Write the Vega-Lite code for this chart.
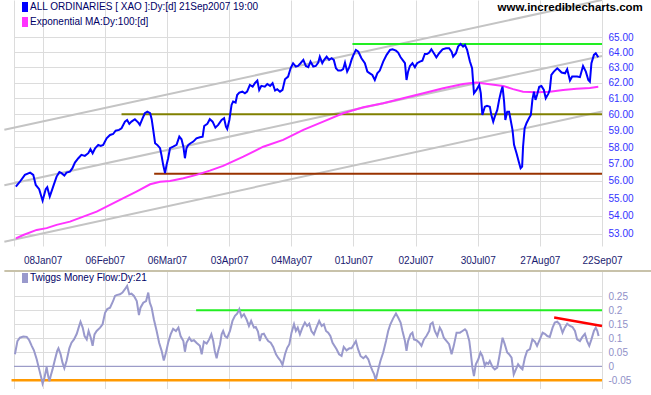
{
  "$schema": "https://vega.github.io/schema/vega-lite/v6.json",
  "background": "white",
  "padding": 0,
  "spacing": 2,
  "title": {"text": "www.incrediblecharts.com", "anchor": "end", "frame": "bounds", "fontSize": 11.5, "fontWeight": "bold", "color": "#000000", "font": "Liberation Sans", "offset": 0, "dy": 13, "dx": -16},
  "config": {
    "view": {"stroke": null},
    "font": "Liberation Sans",
    "axis": {"gridColor": "#dcdcdc", "gridWidth": 1, "domain": false, "ticks": false, "title": null, "labelFontSize": 10, "labelFont": "Liberation Sans"},
    "legend": {"orient": "none", "legendX": 6, "legendY": 2, "title": null, "padding": 0, "rowPadding": 5, "symbolType": "M-0.6,-1H0.6V1H-0.6Z", "symbolSize": 100, "symbolStrokeWidth": 0, "labelFontSize": 10, "labelFont": "Liberation Sans", "labelColor": "#000066", "labelOffset": 0, "labelLimit": 0}
  },
  "resolve": {"scale": {"color": "independent"}, "legend": {"color": "independent"}},
  "vconcat": [
    {
      "width": 588,
      "height": 246,
      "encoding": {
        "x": {"field": "d", "type": "quantitative", "scale": {"domain": [0.8, 190], "nice": false, "zero": false},
          "axis": {"values": [0.8, 10, 30, 50, 70, 90, 110, 130, 150, 170, 190], "labelExpr": "datum.value < 5 ? '' : ['08Jan07','06Feb07','06Mar07','03Apr07','04May07','01Jun07','02Jul07','30Jul07','27Aug07','22Sep07'][round((datum.value-10)/20)]", "labelPadding": 9, "labelColor": "#1a1a70", "labelFlush": false, "labelOverlap": false}},
        "y": {"field": "v", "type": "quantitative", "scale": {"type": "log", "domain": [52.34, 67.56], "nice": false, "zero": false},
          "axis": {"orient": "right", "values": [53, 54, 55, 56, 57, 58, 59, 60, 61, 62, 63, 64, 65], "format": ".2f", "labelPadding": 6, "labelColor": "#3333ff"}}
      },
      "layer": [
        {
          "data": {"values": [
            {"g": "a", "d": -2.3, "v": 59.05}, {"g": "a", "d": 100, "v": 63.43},
            {"g": "b", "d": -2.3, "v": 55.74}, {"g": "b", "d": 190, "v": 63.75},
            {"g": "c", "d": -2.3, "v": 52.57}, {"g": "c", "d": 190, "v": 60.18}
          ]},
          "mark": {"type": "line", "color": "#c4c4c4", "strokeWidth": 2, "clip": false},
          "encoding": {"detail": {"field": "g"}}
        },
        {
          "data": {"values": [{"d": 100, "v": 63.43}, {"d": 192, "v": 67.66}]},
          "mark": {"type": "line", "color": "#c4c4c4", "strokeWidth": 2, "clip": true},
          "encoding": {}
        },
        {
          "data": {"values": [{"d": 109.7, "v": 64.55}, {"d": 190, "v": 64.55}]},
          "mark": {"type": "line", "color": "#22ee22", "strokeWidth": 2, "clip": false},
          "encoding": {}
        },
        {
          "data": {"values": [{"d": 35.4, "v": 60.0}, {"d": 190, "v": 60.0}]},
          "mark": {"type": "line", "color": "#808000", "strokeWidth": 2, "clip": false},
          "encoding": {}
        },
        {
          "data": {"values": [{"d": 45.9, "v": 56.41}, {"d": 190, "v": 56.41}]},
          "mark": {"type": "line", "color": "#993300", "strokeWidth": 2, "clip": false},
          "encoding": {}
        },
        {
          "data": {"values": [
            {"s":"MA","d":1.4,"v":52.76},{"s":"MA","d":3.8,"v":52.94},{"s":"MA","d":8.1,"v":53.22},{"s":"MA","d":11.3,"v":53.32},{"s":"MA","d":14.5,"v":53.50},{"s":"MA","d":18.8,"v":53.68},{"s":"MA","d":23.1,"v":53.96},{"s":"MA","d":27.4,"v":54.24},{"s":"MA","d":31.7,"v":54.62},{"s":"MA","d":36.0,"v":55.00},{"s":"MA","d":40.2,"v":55.38},{"s":"MA","d":44.6,"v":55.80},{"s":"MA","d":47.8,"v":55.95},{"s":"MA","d":51.0,"v":55.99},{"s":"MA","d":55.3,"v":56.15},{"s":"MA","d":59.5,"v":56.35},{"s":"MA","d":63.8,"v":56.60},{"s":"MA","d":68.1,"v":56.88},{"s":"MA","d":74.6,"v":57.43},{"s":"MA","d":81.0,"v":58.02},{"s":"MA","d":87.4,"v":58.43},{"s":"MA","d":93.9,"v":59.04},{"s":"MA","d":100.3,"v":59.55},{"s":"MA","d":106.7,"v":60.07},{"s":"MA","d":113.2,"v":60.45},{"s":"MA","d":119.6,"v":60.70},{"s":"MA","d":126.0,"v":61.01},{"s":"MA","d":132.5,"v":61.33},{"s":"MA","d":138.9,"v":61.65},{"s":"MA","d":145.3,"v":61.92},{"s":"MA","d":149.6,"v":62.01},{"s":"MA","d":153.9,"v":61.90},{"s":"MA","d":158.2,"v":61.80},{"s":"MA","d":161.4,"v":61.59},{"s":"MA","d":164.6,"v":61.43},{"s":"MA","d":168.9,"v":61.39},{"s":"MA","d":173.2,"v":61.43},{"s":"MA","d":177.5,"v":61.54},{"s":"MA","d":181.8,"v":61.61},{"s":"MA","d":186.1,"v":61.67},{"s":"MA","d":188.8,"v":61.75},
            {"s":"XAO","d":1.4,"v":55.67},{"s":"XAO","d":2.7,"v":55.95},{"s":"XAO","d":4.3,"v":56.35},{"s":"XAO","d":6.0,"v":56.48},{"s":"XAO","d":7.0,"v":56.35},{"s":"XAO","d":7.8,"v":55.76},{"s":"XAO","d":8.9,"v":55.52},{"s":"XAO","d":10.0,"v":54.86},{"s":"XAO","d":11.0,"v":55.52},{"s":"XAO","d":11.5,"v":55.63},{"s":"XAO","d":12.3,"v":55.09},{"s":"XAO","d":13.4,"v":55.67},{"s":"XAO","d":14.5,"v":56.25},{"s":"XAO","d":15.4,"v":56.51},{"s":"XAO","d":16.1,"v":56.45},{"s":"XAO","d":17.0,"v":56.31},{"s":"XAO","d":17.7,"v":56.48},{"s":"XAO","d":18.8,"v":56.54},{"s":"XAO","d":19.6,"v":56.74},{"s":"XAO","d":20.4,"v":57.07},{"s":"XAO","d":21.5,"v":57.33},{"s":"XAO","d":22.5,"v":57.53},{"s":"XAO","d":23.6,"v":57.47},{"s":"XAO","d":24.7,"v":57.63},{"s":"XAO","d":25.4,"v":57.87},{"s":"XAO","d":26.1,"v":57.63},{"s":"XAO","d":26.9,"v":57.93},{"s":"XAO","d":27.9,"v":58.13},{"s":"XAO","d":28.7,"v":58.07},{"s":"XAO","d":29.5,"v":58.13},{"s":"XAO","d":30.6,"v":58.53},{"s":"XAO","d":31.7,"v":58.73},{"s":"XAO","d":32.7,"v":58.79},{"s":"XAO","d":33.5,"v":58.99},{"s":"XAO","d":34.6,"v":59.04},{"s":"XAO","d":35.4,"v":59.14},{"s":"XAO","d":36.5,"v":59.55},{"s":"XAO","d":37.2,"v":59.65},{"s":"XAO","d":37.9,"v":59.41},{"s":"XAO","d":38.6,"v":59.55},{"s":"XAO","d":39.7,"v":59.70},{"s":"XAO","d":40.8,"v":59.49},{"s":"XAO","d":41.3,"v":59.35},{"s":"XAO","d":42.2,"v":59.76},{"s":"XAO","d":42.9,"v":60.07},{"s":"XAO","d":43.7,"v":60.17},{"s":"XAO","d":44.6,"v":60.07},{"s":"XAO","d":45.1,"v":59.70},{"s":"XAO","d":45.6,"v":59.04},{"s":"XAO","d":46.2,"v":58.23},{"s":"XAO","d":46.9,"v":58.13},{"s":"XAO","d":47.8,"v":57.93},{"s":"XAO","d":48.3,"v":57.47},{"s":"XAO","d":48.8,"v":56.94},{"s":"XAO","d":49.4,"v":56.45},{"s":"XAO","d":49.9,"v":56.94},{"s":"XAO","d":50.4,"v":57.33},{"s":"XAO","d":51.0,"v":57.93},{"s":"XAO","d":52.0,"v":58.02},{"s":"XAO","d":53.1,"v":58.13},{"s":"XAO","d":54.0,"v":58.63},{"s":"XAO","d":54.7,"v":58.47},{"s":"XAO","d":55.3,"v":58.02},{"s":"XAO","d":55.8,"v":57.33},{"s":"XAO","d":56.3,"v":57.93},{"s":"XAO","d":56.9,"v":58.13},{"s":"XAO","d":57.6,"v":58.23},{"s":"XAO","d":58.5,"v":58.33},{"s":"XAO","d":59.5,"v":58.53},{"s":"XAO","d":60.6,"v":58.59},{"s":"XAO","d":61.5,"v":58.63},{"s":"XAO","d":62.0,"v":59.28},{"s":"XAO","d":63.0,"v":59.41},{"s":"XAO","d":63.8,"v":59.70},{"s":"XAO","d":64.7,"v":59.55},{"s":"XAO","d":65.6,"v":59.18},{"s":"XAO","d":66.5,"v":59.35},{"s":"XAO","d":67.6,"v":59.65},{"s":"XAO","d":68.4,"v":59.76},{"s":"XAO","d":69.0,"v":59.24},{"s":"XAO","d":69.4,"v":59.10},{"s":"XAO","d":70.1,"v":59.65},{"s":"XAO","d":70.8,"v":60.59},{"s":"XAO","d":71.3,"v":60.80},{"s":"XAO","d":72.1,"v":60.74},{"s":"XAO","d":72.6,"v":61.22},{"s":"XAO","d":73.3,"v":61.37},{"s":"XAO","d":74.3,"v":61.43},{"s":"XAO","d":75.1,"v":61.33},{"s":"XAO","d":75.8,"v":61.43},{"s":"XAO","d":76.7,"v":61.86},{"s":"XAO","d":77.6,"v":61.75},{"s":"XAO","d":78.3,"v":61.97},{"s":"XAO","d":79.1,"v":62.14},{"s":"XAO","d":79.7,"v":61.54},{"s":"XAO","d":80.4,"v":61.80},{"s":"XAO","d":81.5,"v":61.75},{"s":"XAO","d":82.3,"v":61.92},{"s":"XAO","d":83.2,"v":61.80},{"s":"XAO","d":84.0,"v":61.97},{"s":"XAO","d":84.8,"v":61.50},{"s":"XAO","d":85.5,"v":61.59},{"s":"XAO","d":86.4,"v":61.43},{"s":"XAO","d":87.2,"v":61.54},{"s":"XAO","d":88.0,"v":62.23},{"s":"XAO","d":89.0,"v":62.40},{"s":"XAO","d":89.8,"v":62.94},{"s":"XAO","d":90.6,"v":63.27},{"s":"XAO","d":91.5,"v":63.05},{"s":"XAO","d":92.2,"v":63.09},{"s":"XAO","d":93.0,"v":63.27},{"s":"XAO","d":93.9,"v":63.49},{"s":"XAO","d":94.7,"v":63.09},{"s":"XAO","d":95.5,"v":63.01},{"s":"XAO","d":96.2,"v":63.38},{"s":"XAO","d":97.1,"v":63.05},{"s":"XAO","d":97.9,"v":63.09},{"s":"XAO","d":98.7,"v":63.31},{"s":"XAO","d":99.2,"v":63.70},{"s":"XAO","d":100.0,"v":63.27},{"s":"XAO","d":100.6,"v":63.49},{"s":"XAO","d":101.4,"v":63.70},{"s":"XAO","d":102.2,"v":63.49},{"s":"XAO","d":103.0,"v":63.60},{"s":"XAO","d":103.7,"v":63.49},{"s":"XAO","d":104.4,"v":62.94},{"s":"XAO","d":105.1,"v":62.79},{"s":"XAO","d":106.0,"v":62.79},{"s":"XAO","d":106.7,"v":62.88},{"s":"XAO","d":107.3,"v":63.31},{"s":"XAO","d":108.0,"v":62.72},{"s":"XAO","d":108.7,"v":63.01},{"s":"XAO","d":109.4,"v":63.49},{"s":"XAO","d":109.9,"v":63.76},{"s":"XAO","d":110.8,"v":64.15},{"s":"XAO","d":111.6,"v":64.03},{"s":"XAO","d":112.6,"v":63.60},{"s":"XAO","d":113.7,"v":63.27},{"s":"XAO","d":114.5,"v":62.72},{"s":"XAO","d":115.3,"v":62.61},{"s":"XAO","d":116.1,"v":62.50},{"s":"XAO","d":116.9,"v":62.18},{"s":"XAO","d":117.7,"v":62.61},{"s":"XAO","d":118.5,"v":62.79},{"s":"XAO","d":119.6,"v":63.38},{"s":"XAO","d":120.7,"v":63.82},{"s":"XAO","d":121.8,"v":64.15},{"s":"XAO","d":122.6,"v":64.19},{"s":"XAO","d":123.7,"v":64.10},{"s":"XAO","d":124.4,"v":63.97},{"s":"XAO","d":125.2,"v":63.66},{"s":"XAO","d":126.0,"v":63.44},{"s":"XAO","d":126.6,"v":63.27},{"s":"XAO","d":127.1,"v":62.18},{"s":"XAO","d":127.6,"v":62.72},{"s":"XAO","d":128.2,"v":63.09},{"s":"XAO","d":129.0,"v":63.27},{"s":"XAO","d":129.8,"v":63.01},{"s":"XAO","d":130.5,"v":63.27},{"s":"XAO","d":131.4,"v":63.38},{"s":"XAO","d":132.2,"v":63.44},{"s":"XAO","d":133.0,"v":63.88},{"s":"XAO","d":133.7,"v":63.88},{"s":"XAO","d":134.4,"v":63.97},{"s":"XAO","d":135.1,"v":64.19},{"s":"XAO","d":135.9,"v":63.93},{"s":"XAO","d":136.7,"v":63.66},{"s":"XAO","d":137.6,"v":63.93},{"s":"XAO","d":138.7,"v":64.19},{"s":"XAO","d":139.8,"v":64.26},{"s":"XAO","d":140.8,"v":64.26},{"s":"XAO","d":141.6,"v":64.03},{"s":"XAO","d":142.1,"v":63.70},{"s":"XAO","d":143.0,"v":63.93},{"s":"XAO","d":143.7,"v":64.37},{"s":"XAO","d":144.5,"v":64.55},{"s":"XAO","d":145.3,"v":64.37},{"s":"XAO","d":145.9,"v":64.48},{"s":"XAO","d":146.6,"v":64.15},{"s":"XAO","d":147.5,"v":63.38},{"s":"XAO","d":148.2,"v":62.94},{"s":"XAO","d":148.8,"v":61.33},{"s":"XAO","d":149.6,"v":61.54},{"s":"XAO","d":150.5,"v":61.86},{"s":"XAO","d":151.0,"v":61.33},{"s":"XAO","d":151.5,"v":59.96},{"s":"XAO","d":152.3,"v":60.48},{"s":"XAO","d":153.0,"v":60.53},{"s":"XAO","d":153.9,"v":60.48},{"s":"XAO","d":154.4,"v":59.96},{"s":"XAO","d":155.0,"v":59.55},{"s":"XAO","d":155.5,"v":59.86},{"s":"XAO","d":156.3,"v":60.28},{"s":"XAO","d":156.9,"v":60.91},{"s":"XAO","d":157.5,"v":61.43},{"s":"XAO","d":158.0,"v":61.75},{"s":"XAO","d":158.5,"v":60.80},{"s":"XAO","d":158.9,"v":59.65},{"s":"XAO","d":159.5,"v":60.17},{"s":"XAO","d":160.1,"v":60.17},{"s":"XAO","d":160.5,"v":59.76},{"s":"XAO","d":161.2,"v":59.04},{"s":"XAO","d":161.7,"v":58.13},{"s":"XAO","d":162.5,"v":57.63},{"s":"XAO","d":163.2,"v":57.13},{"s":"XAO","d":163.8,"v":56.74},{"s":"XAO","d":164.3,"v":56.84},{"s":"XAO","d":164.6,"v":58.02},{"s":"XAO","d":165.1,"v":59.14},{"s":"XAO","d":165.7,"v":59.45},{"s":"XAO","d":166.5,"v":59.76},{"s":"XAO","d":167.1,"v":59.96},{"s":"XAO","d":167.6,"v":60.91},{"s":"XAO","d":168.1,"v":61.43},{"s":"XAO","d":168.6,"v":60.91},{"s":"XAO","d":169.1,"v":61.22},{"s":"XAO","d":169.8,"v":61.75},{"s":"XAO","d":170.5,"v":61.80},{"s":"XAO","d":171.3,"v":61.54},{"s":"XAO","d":171.9,"v":61.01},{"s":"XAO","d":172.7,"v":61.29},{"s":"XAO","d":173.2,"v":61.54},{"s":"XAO","d":173.7,"v":62.51},{"s":"XAO","d":174.5,"v":62.72},{"s":"XAO","d":175.6,"v":62.94},{"s":"XAO","d":176.2,"v":62.83},{"s":"XAO","d":177.0,"v":62.66},{"s":"XAO","d":178.1,"v":62.61},{"s":"XAO","d":178.8,"v":62.88},{"s":"XAO","d":179.7,"v":62.14},{"s":"XAO","d":180.4,"v":62.40},{"s":"XAO","d":181.3,"v":62.40},{"s":"XAO","d":182.0,"v":62.40},{"s":"XAO","d":182.9,"v":62.36},{"s":"XAO","d":183.9,"v":63.09},{"s":"XAO","d":184.8,"v":62.72},{"s":"XAO","d":185.6,"v":62.18},{"s":"XAO","d":186.1,"v":62.07},{"s":"XAO","d":186.6,"v":63.27},{"s":"XAO","d":187.4,"v":63.82},{"s":"XAO","d":188.0,"v":63.93},{"s":"XAO","d":188.8,"v":63.66}
          ]},
          "mark": {"type": "line", "strokeWidth": 2},
          "encoding": {"color": {"field": "s", "type": "nominal", "sort": ["XAO", "MA"], "scale": {"domain": ["XAO", "MA"], "range": ["#0000ff", "#ff33ff"]},
            "legend": {"labelExpr": "datum.value == 'XAO' ? 'ALL ORDINARIES [ XAO ]:Dy:[d]  21Sep2007 19:00' : 'Exponential MA:Dy:100:[d]'",
              "encode": {"symbols": {"update": {"fill": {"signal": "datum.value == 'XAO' ? '#0000ff' : '#ff33ff'"}, "fillOpacity": {"value": 1}, "strokeWidth": {"value": 0}}}}}}}
        }
      ]
    },
    {
      "width": 588,
      "height": 118,
      "encoding": {
        "x": {"field": "d", "type": "quantitative", "scale": {"domain": [0.8, 190], "nice": false, "zero": false},
          "axis": {"values": [0.8, 10, 30, 50, 70, 90, 110, 130, 150, 170, 190], "labels": false}},
        "y": {"field": "v", "type": "quantitative", "scale": {"domain": [-0.081, 0.34], "nice": false, "zero": false},
          "axis": {"orient": "right", "values": [-0.05, 0, 0.05, 0.1, 0.15, 0.2, 0.25], "labelExpr": "'' + datum.value", "labelPadding": 6, "labelColor": "#9090c8"}}
      },
      "layer": [
        {
          "data": {"values": [{"d": -2.3, "v": 0.34}, {"d": 207, "v": 0.34}]},
          "mark": {"type": "line", "color": "#c8c2aa", "strokeWidth": 2, "clip": false},
          "encoding": {}
        },
        {
          "data": {"values": [{"d": 0.8, "v": 0}, {"d": 190, "v": 0}]},
          "mark": {"type": "line", "color": "#8c8cc4", "strokeWidth": 1, "clip": false},
          "encoding": {}
        },
        {
          "data": {"values": [{"d": 0, "v": -0.05}, {"d": 190, "v": -0.05}]},
          "mark": {"type": "line", "color": "#ff9900", "strokeWidth": 2.5, "clip": false},
          "encoding": {}
        },
        {
          "data": {"values": [{"d": 59.4, "v": 0.2}, {"d": 190, "v": 0.2}]},
          "mark": {"type": "line", "color": "#22ee22", "strokeWidth": 2, "clip": false},
          "encoding": {}
        },
        {
          "data": {"values": [
            {"d":1.1,"v":0.043},{"d":1.9,"v":0.090},{"d":2.7,"v":0.102},{"d":3.8,"v":0.106},{"d":4.9,"v":0.105},{"d":5.7,"v":0.093},{"d":6.5,"v":0.073},{"d":7.2,"v":0.057},{"d":8.1,"v":0.025},{"d":8.9,"v":-0.011},{"d":9.7,"v":-0.046},{"d":10.0,"v":-0.062},{"d":10.6,"v":-0.041},{"d":11.3,"v":-0.003},{"d":11.8,"v":-0.035},{"d":12.2,"v":-0.053},{"d":12.6,"v":-0.035},{"d":13.2,"v":-0.011},{"d":14.0,"v":0.025},{"d":14.7,"v":0.055},{"d":15.1,"v":0.064},{"d":15.8,"v":0.043},{"d":16.4,"v":0.013},{"d":17.0,"v":-0.007},{"d":17.7,"v":0.019},{"d":18.6,"v":0.064},{"d":19.3,"v":0.084},{"d":20.1,"v":0.096},{"d":21.0,"v":0.116},{"d":21.6,"v":0.138},{"d":22.2,"v":0.159},{"d":22.9,"v":0.138},{"d":23.5,"v":0.108},{"d":24.2,"v":0.096},{"d":24.8,"v":0.126},{"d":25.5,"v":0.102},{"d":26.1,"v":0.073},{"d":26.7,"v":0.114},{"d":27.4,"v":0.126},{"d":28.5,"v":0.138},{"d":29.3,"v":0.150},{"d":30.1,"v":0.191},{"d":30.8,"v":0.204},{"d":31.7,"v":0.209},{"d":32.7,"v":0.233},{"d":33.3,"v":0.251},{"d":33.8,"v":0.254},{"d":34.9,"v":0.257},{"d":35.7,"v":0.263},{"d":36.5,"v":0.275},{"d":37.2,"v":0.287},{"d":37.9,"v":0.257},{"d":38.6,"v":0.259},{"d":39.4,"v":0.251},{"d":40.3,"v":0.233},{"d":41.0,"v":0.183},{"d":41.5,"v":0.209},{"d":42.4,"v":0.227},{"d":43.3,"v":0.233},{"d":44.0,"v":0.263},{"d":44.5,"v":0.227},{"d":45.1,"v":0.209},{"d":45.8,"v":0.168},{"d":46.7,"v":0.126},{"d":47.5,"v":0.084},{"d":48.3,"v":0.055},{"d":49.0,"v":0.021},{"d":49.7,"v":0.049},{"d":50.4,"v":0.084},{"d":51.2,"v":0.114},{"d":52.0,"v":0.134},{"d":52.9,"v":0.126},{"d":53.7,"v":0.138},{"d":54.4,"v":0.108},{"d":55.3,"v":0.090},{"d":55.8,"v":0.052},{"d":56.3,"v":0.084},{"d":57.2,"v":0.102},{"d":57.9,"v":0.090},{"d":58.7,"v":0.093},{"d":59.5,"v":0.084},{"d":60.6,"v":0.073},{"d":61.2,"v":0.043},{"d":61.9,"v":0.088},{"d":62.8,"v":0.081},{"d":63.6,"v":0.096},{"d":64.3,"v":0.114},{"d":64.9,"v":0.090},{"d":65.4,"v":0.055},{"d":66.0,"v":0.029},{"d":66.5,"v":0.055},{"d":67.1,"v":0.079},{"d":67.6,"v":0.114},{"d":68.1,"v":0.126},{"d":68.7,"v":0.108},{"d":69.4,"v":0.102},{"d":70.3,"v":0.126},{"d":71.1,"v":0.162},{"d":71.9,"v":0.180},{"d":72.6,"v":0.188},{"d":73.3,"v":0.204},{"d":74.0,"v":0.176},{"d":74.8,"v":0.186},{"d":75.6,"v":0.168},{"d":76.4,"v":0.144},{"d":77.1,"v":0.162},{"d":78.0,"v":0.138},{"d":78.6,"v":0.140},{"d":79.3,"v":0.124},{"d":79.9,"v":0.090},{"d":80.5,"v":0.114},{"d":81.2,"v":0.116},{"d":81.9,"v":0.102},{"d":82.6,"v":0.090},{"d":83.4,"v":0.084},{"d":84.2,"v":0.069},{"d":85.1,"v":0.043},{"d":85.9,"v":0.029},{"d":86.6,"v":0.019},{"d":87.2,"v":0.005},{"d":88.0,"v":0.043},{"d":88.7,"v":0.066},{"d":89.4,"v":0.079},{"d":90.1,"v":0.120},{"d":90.9,"v":0.150},{"d":91.5,"v":0.126},{"d":92.1,"v":0.138},{"d":92.8,"v":0.114},{"d":93.6,"v":0.138},{"d":94.4,"v":0.156},{"d":95.1,"v":0.144},{"d":95.8,"v":0.152},{"d":96.5,"v":0.126},{"d":97.3,"v":0.114},{"d":98.1,"v":0.138},{"d":99.0,"v":0.162},{"d":99.8,"v":0.144},{"d":100.5,"v":0.150},{"d":101.2,"v":0.126},{"d":101.9,"v":0.120},{"d":102.6,"v":0.108},{"d":103.3,"v":0.084},{"d":104.6,"v":0.061},{"d":105.4,"v":0.043},{"d":106.2,"v":0.037},{"d":106.9,"v":0.069},{"d":107.8,"v":0.057},{"d":108.7,"v":0.064},{"d":109.4,"v":0.064},{"d":110.2,"v":0.079},{"d":110.8,"v":0.090},{"d":111.5,"v":0.061},{"d":112.3,"v":0.037},{"d":113.2,"v":0.029},{"d":114.0,"v":0.037},{"d":114.8,"v":0.025},{"d":115.5,"v":0.001},{"d":116.2,"v":-0.017},{"d":116.7,"v":-0.029},{"d":117.2,"v":-0.050},{"d":118.0,"v":-0.011},{"d":118.7,"v":0.019},{"d":119.6,"v":0.049},{"d":120.5,"v":0.090},{"d":121.2,"v":0.126},{"d":121.9,"v":0.150},{"d":122.8,"v":0.171},{"d":123.7,"v":0.188},{"d":124.4,"v":0.174},{"d":125.2,"v":0.156},{"d":125.8,"v":0.126},{"d":126.6,"v":0.090},{"d":127.1,"v":0.055},{"d":127.6,"v":0.090},{"d":128.4,"v":0.114},{"d":129.0,"v":0.120},{"d":129.5,"v":0.096},{"d":130.3,"v":0.093},{"d":131.2,"v":0.084},{"d":131.9,"v":0.073},{"d":132.7,"v":0.096},{"d":133.5,"v":0.108},{"d":134.4,"v":0.126},{"d":134.8,"v":0.150},{"d":135.5,"v":0.156},{"d":136.2,"v":0.126},{"d":137.0,"v":0.108},{"d":137.8,"v":0.138},{"d":138.4,"v":0.126},{"d":139.1,"v":0.102},{"d":140.0,"v":0.090},{"d":140.8,"v":0.079},{"d":141.6,"v":0.043},{"d":142.3,"v":0.073},{"d":143.2,"v":0.120},{"d":144.3,"v":0.120},{"d":145.1,"v":0.126},{"d":145.9,"v":0.132},{"d":146.4,"v":0.126},{"d":147.3,"v":0.090},{"d":147.7,"v":0.055},{"d":148.3,"v":-0.005},{"d":148.8,"v":-0.035},{"d":149.4,"v":0.007},{"d":150.2,"v":0.025},{"d":150.9,"v":0.049},{"d":151.5,"v":0.037},{"d":152.3,"v":0.001},{"d":152.8,"v":0.013},{"d":153.4,"v":0.009},{"d":153.9,"v":0.019},{"d":154.8,"v":-0.003},{"d":155.5,"v":-0.011},{"d":156.3,"v":-0.005},{"d":157.1,"v":0.043},{"d":158.0,"v":0.102},{"d":158.7,"v":0.079},{"d":159.5,"v":0.049},{"d":160.1,"v":0.043},{"d":160.9,"v":0.031},{"d":161.6,"v":-0.029},{"d":162.3,"v":-0.011},{"d":163.0,"v":0.007},{"d":163.8,"v":-0.005},{"d":164.4,"v":-0.011},{"d":165.2,"v":0.031},{"d":165.9,"v":0.055},{"d":166.8,"v":0.061},{"d":167.6,"v":0.096},{"d":168.4,"v":0.088},{"d":169.1,"v":0.073},{"d":170.0,"v":0.096},{"d":170.9,"v":0.120},{"d":171.6,"v":0.116},{"d":172.4,"v":0.108},{"d":173.2,"v":0.105},{"d":174.1,"v":0.138},{"d":174.8,"v":0.156},{"d":175.6,"v":0.159},{"d":176.4,"v":0.150},{"d":177.3,"v":0.120},{"d":178.0,"v":0.138},{"d":178.8,"v":0.152},{"d":179.7,"v":0.144},{"d":180.5,"v":0.140},{"d":181.3,"v":0.126},{"d":182.0,"v":0.096},{"d":182.9,"v":0.090},{"d":183.7,"v":0.105},{"d":184.5,"v":0.116},{"d":185.2,"v":0.090},{"d":185.9,"v":0.073},{"d":186.6,"v":0.096},{"d":187.4,"v":0.126},{"d":188.0,"v":0.138},{"d":188.5,"v":0.126},{"d":188.9,"v":0.108}
          ]},
          "mark": {"type": "line", "strokeWidth": 2},
          "encoding": {"color": {"datum": "Twiggs Money Flow:Dy:21", "type": "nominal", "scale": {"domain": ["Twiggs Money Flow:Dy:21"], "range": ["#9999cc"]},
            "legend": {"encode": {"symbols": {"update": {"fill": {"value": "#9999cc"}, "fillOpacity": {"value": 1}, "strokeWidth": {"value": 0}}}}}}}
        },
        {
          "data": {"values": [{"d": 174.6, "v": 0.174}, {"d": 190, "v": 0.144}]},
          "mark": {"type": "line", "color": "#ff0000", "strokeWidth": 2.5, "clip": false},
          "encoding": {}
        }
      ]
    }
  ]
}
